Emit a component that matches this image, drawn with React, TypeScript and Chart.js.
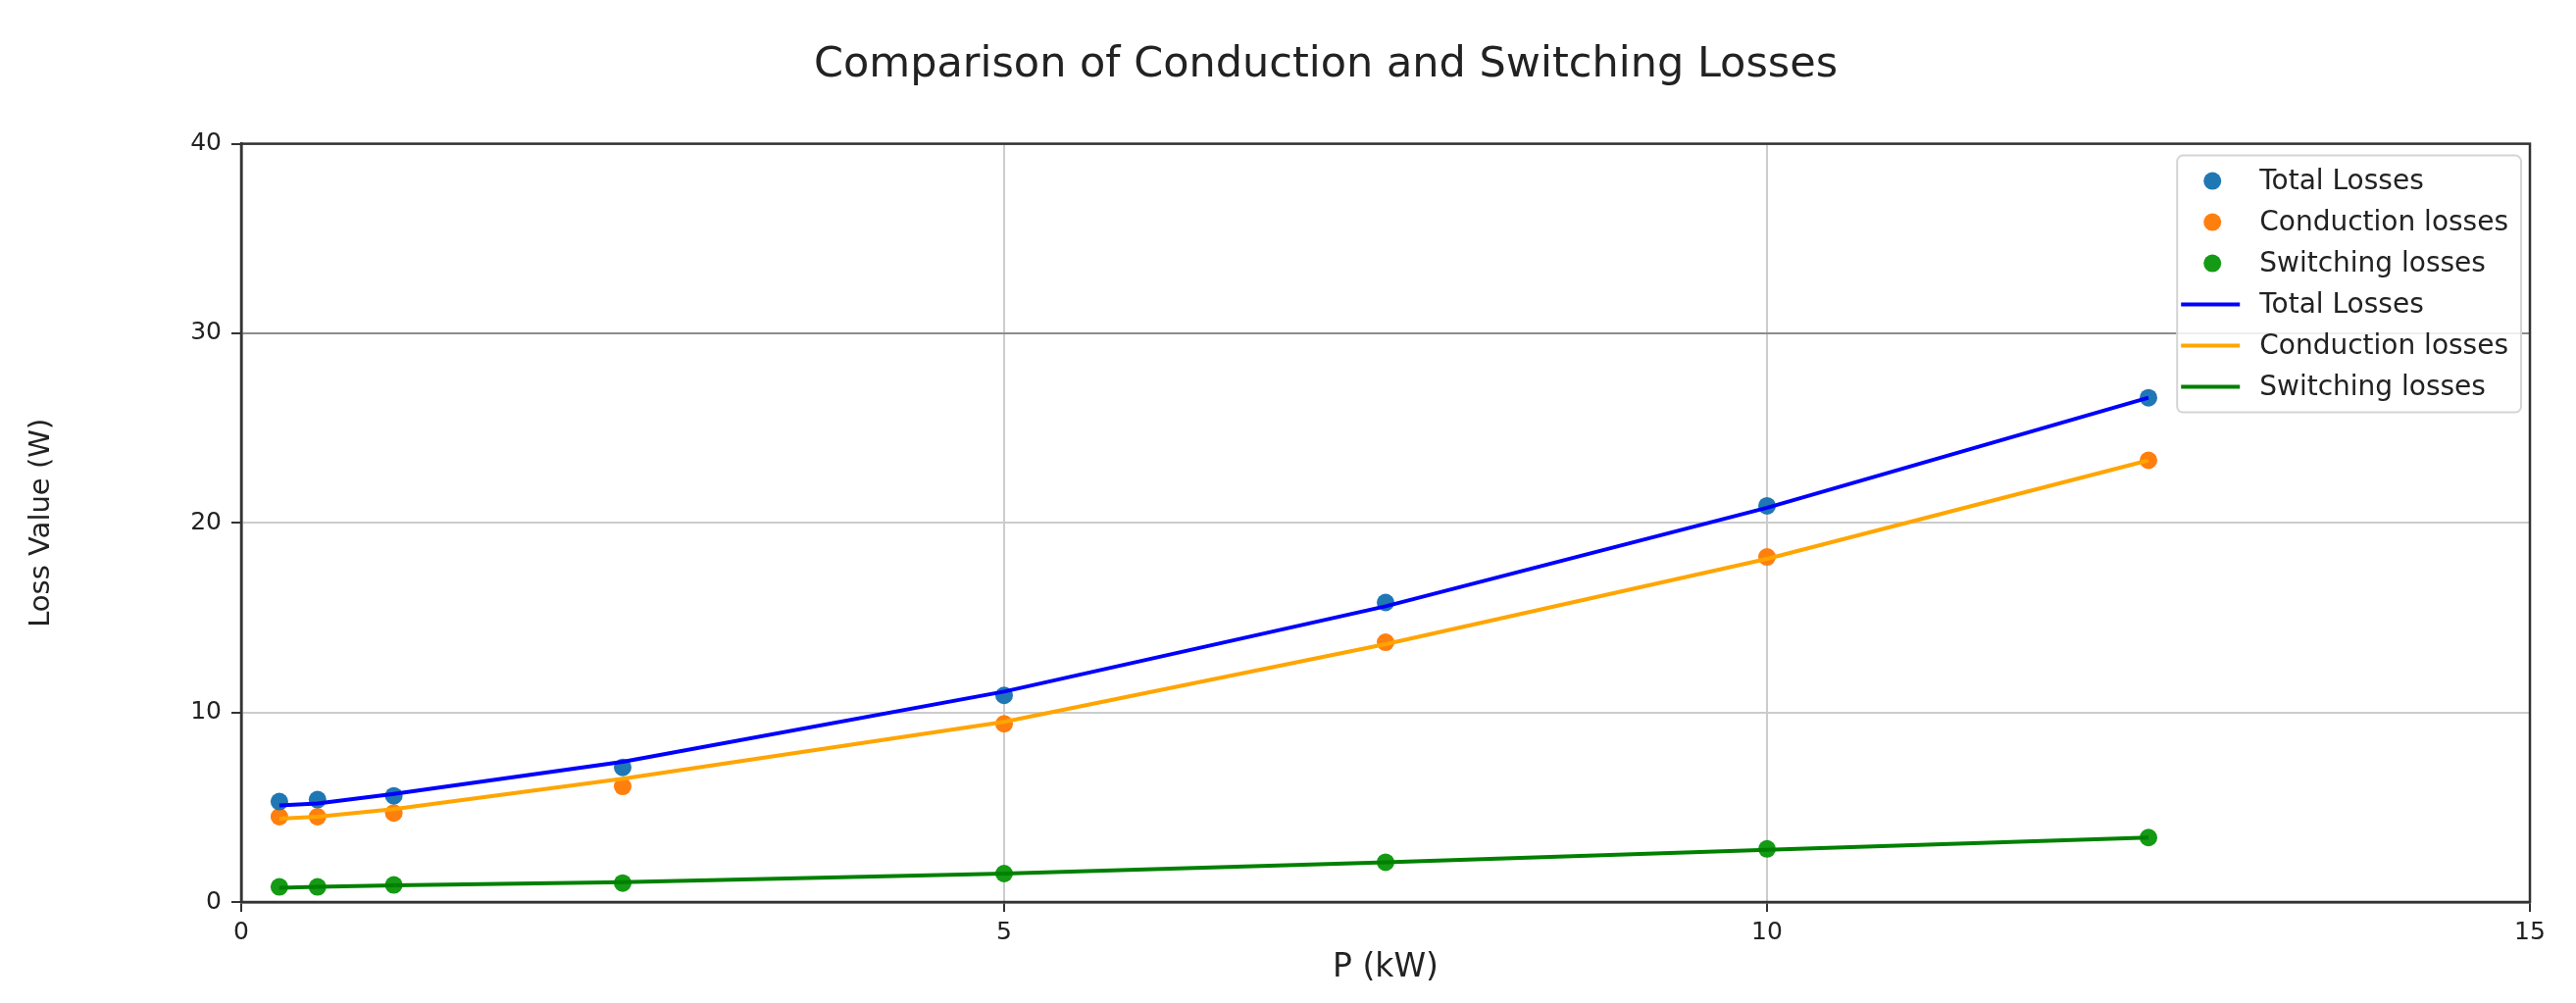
import React, { useEffect, useRef } from "react";
import { Chart, registerables } from "chart.js";

Chart.register(...registerables);

const TITLE = "Comparison of Conduction and Switching Losses";
const X_LABEL = "P (kW)";
const Y_LABEL = "Loss Value (W)";

const powerKW = [0.25, 0.5, 1, 2.5, 5, 7.5, 10, 12.5];

const totalPoints = [5.3, 5.4, 5.6, 7.1, 10.9, 15.8, 20.9, 26.6];
const conductionPoints = [4.5, 4.5, 4.7, 6.1, 9.4, 13.7, 18.2, 23.3];
const switchingPoints = [0.8, 0.8, 0.9, 1.0, 1.5, 2.1, 2.8, 3.4];

const totalLine = [5.1, 5.2, 5.7, 7.4, 11.1, 15.6, 20.8, 26.6];
const conductionLine = [4.4, 4.5, 4.9, 6.5, 9.5, 13.6, 18.1, 23.3];
const switchingLine = [0.75, 0.8, 0.88, 1.05, 1.5, 2.1, 2.75, 3.4];

const seriesLabels = ["Total Losses", "Conduction losses", "Switching losses"];
const pointColors = ["#1f77b4", "#ff7f0e", "#149a14"];
const lineColors = ["#0000ff", "#ffa500", "#008000"];

const X_TICKS = [0, 5, 10, 15];
const Y_TICKS = [0, 10, 20, 30, 40];

const FONT = '"DejaVu Sans", "Liberation Sans", sans-serif';
const TEXT = "#222222";
const SPINE = "#333333";

const toXY = (ys: number[]) => ys.map((y, i) => ({ x: powerKW[i], y }));

const titleShiftPlugin = {
  id: "titleShift",
  afterLayout(chart: any) {
    const t = chart.titleBlock;
    if (t) {
      t.left += 62;
      t.right += 62;
    }
  },
};

const framePlugin = {
  id: "frame",
  afterDatasetsDraw(chart: any) {
    const { ctx, chartArea: ca } = chart;
    ctx.save();
    ctx.strokeStyle = SPINE;
    ctx.lineWidth = 2.5;
    ctx.strokeRect(ca.left, ca.top, ca.right - ca.left, ca.bottom - ca.top);
    ctx.restore();
  },
};

const legendPlugin = {
  id: "mplLegend",
  afterDraw(chart: any) {
    const { ctx, chartArea: ca } = chart;
    const ds = chart.data.datasets;
    const fontSize = 28;
    ctx.save();
    ctx.font = `${fontSize}px ${FONT}`;
    let maxW = 0;
    ds.forEach((d: any) => {
      maxW = Math.max(maxW, ctx.measureText(d.label).width);
    });
    const rowH = 42;
    const padY = 26;
    const textX = 84;
    const boxW = textX + maxW + 13;
    const boxH = padY * 2 + rowH * (ds.length - 1);
    const right = ca.right - 9;
    const top = ca.top + 12;
    const left = right - boxW;
    ctx.beginPath();
    ctx.roundRect(left, top, boxW, boxH, 6);
    ctx.fillStyle = "rgba(255,255,255,0.85)";
    ctx.fill();
    ctx.strokeStyle = "#d4d4d4";
    ctx.lineWidth = 2;
    ctx.stroke();
    ds.forEach((d: any, i: number) => {
      const y = top + padY + i * rowH;
      if (d.showLine === false) {
        ctx.beginPath();
        ctx.arc(left + 36, y, 9, 0, Math.PI * 2);
        ctx.fillStyle = d.backgroundColor;
        ctx.fill();
      } else {
        ctx.beginPath();
        ctx.moveTo(left + 4, y);
        ctx.lineTo(left + 64, y);
        ctx.strokeStyle = d.borderColor;
        ctx.lineWidth = 4;
        ctx.stroke();
      }
      ctx.fillStyle = TEXT;
      ctx.textBaseline = "middle";
      ctx.textAlign = "left";
      ctx.fillText(d.label, left + textX, y + 1);
    });
    ctx.restore();
  },
};

export default function App() {
  const canvasRef = useRef<HTMLCanvasElement | null>(null);

  useEffect(() => {
    if (!canvasRef.current) return;
    const pointSets = [totalPoints, conductionPoints, switchingPoints];
    const lineSets = [totalLine, conductionLine, switchingLine];
    const datasets: any[] = [];
    pointSets.forEach((vals, i) => {
      datasets.push({
        type: "scatter",
        label: seriesLabels[i],
        data: toXY(vals),
        showLine: false,
        backgroundColor: pointColors[i],
        borderColor: pointColors[i],
        pointRadius: 9,
        pointBorderWidth: 0,
        order: 2,
      });
    });
    lineSets.forEach((vals, i) => {
      datasets.push({
        type: "line",
        label: seriesLabels[i],
        data: toXY(vals),
        showLine: true,
        borderColor: lineColors[i],
        backgroundColor: lineColors[i],
        borderWidth: 4,
        pointRadius: 0,
        tension: 0,
        fill: false,
        order: 1,
      });
    });

    const chart = new Chart(canvasRef.current, {
      type: "line",
      data: { datasets },
      options: {
        animation: false,
        responsive: true,
        maintainAspectRatio: false,
        devicePixelRatio: 1,
        layout: { padding: { left: 0, right: 47, top: 0, bottom: 0 } },
        plugins: {
          legend: { display: false },
          tooltip: { enabled: false },
          title: {
            display: true,
            text: TITLE,
            color: TEXT,
            font: { family: FONT, size: 43, weight: "normal" },
            padding: { top: 41, bottom: 54 },
          },
        },
        scales: {
          x: {
            type: "linear",
            min: 0,
            max: 15,
            afterBuildTicks: (s: any) => {
              s.ticks = X_TICKS.map((v) => ({ value: v }));
            },
            afterFit: (s: any) => {
              s.height = 103;
              s.paddingLeft = 0;
              s.paddingRight = 0;
            },
            ticks: {
              color: TEXT,
              font: { family: FONT, size: 25 },
              padding: 6,
              maxRotation: 0,
            },
            grid: {
              color: "#cccccc",
              lineWidth: 2,
              tickColor: SPINE,
              tickLength: 10,
            },
            border: { display: true, color: SPINE, width: 2.5 },
            title: {
              display: true,
              text: X_LABEL,
              color: TEXT,
              font: { family: FONT, size: 33 },
              padding: { top: 0, bottom: 16 },
            },
          },
          y: {
            type: "linear",
            min: 0,
            max: 40,
            afterBuildTicks: (s: any) => {
              s.ticks = Y_TICKS.map((v) => ({ value: v }));
            },
            afterFit: (s: any) => {
              s.width = 246;
              s.paddingTop = 0;
              s.paddingBottom = 0;
            },
            ticks: {
              color: TEXT,
              font: { family: FONT, size: 25 },
              padding: 10,
            },
            grid: {
              color: (c: any) =>
                c.tick && c.tick.value === 30 ? "#8c8c8c" : "#cccccc",
              lineWidth: 2,
              tickColor: SPINE,
              tickLength: 10,
            },
            border: { display: true, color: SPINE, width: 2.5 },
            title: {
              display: true,
              text: Y_LABEL,
              color: TEXT,
              font: { family: FONT, size: 29 },
              padding: { top: 25, bottom: 0 },
            },
          },
        },
      },
      plugins: [titleShiftPlugin, framePlugin, legendPlugin],
    });
    return () => chart.destroy();
  }, []);

  return (
    <div
      style={{
        position: "absolute",
        left: 0,
        top: 0,
        width: "2627px",
        height: "1023px",
        background: "#ffffff",
      }}
    >
      <canvas ref={canvasRef} />
    </div>
  );
}
